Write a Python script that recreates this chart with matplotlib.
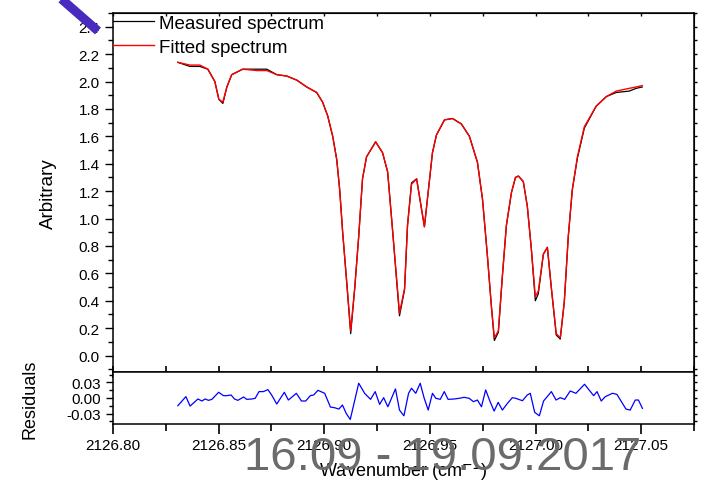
import numpy as np
import matplotlib
matplotlib.use("Agg")
import matplotlib.pyplot as plt
from matplotlib.ticker import MultipleLocator, FormatStrFormatter
from matplotlib.lines import Line2D

plt.rcParams['font.family'] = ['Liberation Sans', 'DejaVu Sans']

# spectrum (fit and measurement share one wavenumber grid)
wn = [2126.8307, 2126.8364, 2126.8411, 2126.8449, 2126.8482, 2126.8501, 2126.8520,
      2126.8539, 2126.8562, 2126.8614, 2126.8681, 2126.8728, 2126.8775, 2126.8822,
      2126.8870, 2126.8917, 2126.8964, 2126.8992, 2126.9016, 2126.9040, 2126.9059,
      2126.9073, 2126.9087, 2126.9106, 2126.9125, 2126.9144, 2126.9163, 2126.9181,
      2126.9200, 2126.9243, 2126.9276, 2126.9300, 2126.9323, 2126.9356, 2126.9380,
      2126.9394, 2126.9413, 2126.9437, 2126.9474, 2126.9512, 2126.9531, 2126.9569,
      2126.9607, 2126.9649, 2126.9687, 2126.9725, 2126.9749, 2126.9772, 2126.9791,
      2126.9805, 2126.9824, 2126.9843, 2126.9862, 2126.9886, 2126.9905, 2126.9919,
      2126.9942, 2126.9961, 2126.9980, 2126.9999, 2127.0013, 2127.0037, 2127.0056,
      2127.0075, 2127.0098, 2127.0117, 2127.0136, 2127.0155, 2127.0174, 2127.0198,
      2127.0231, 2127.0287, 2127.0335, 2127.0382, 2127.0443, 2127.0476, 2127.0505]

fitted = [2.14, 2.12, 2.12, 2.09, 2.00, 1.87, 1.85,
          1.96, 2.05, 2.09, 2.08, 2.08, 2.05, 2.04,
          2.01, 1.96, 1.92, 1.85, 1.75, 1.60, 1.43,
          1.21, 0.90, 0.54, 0.18, 0.49, 0.87, 1.29,
          1.45, 1.56, 1.48, 1.34, 0.92, 0.31, 0.49,
          0.95, 1.25, 1.29, 0.94, 1.48, 1.61, 1.72,
          1.73, 1.69, 1.60, 1.41, 1.14, 0.73, 0.36,
          0.13, 0.18, 0.58, 0.95, 1.19, 1.30, 1.31,
          1.27, 1.09, 0.78, 0.43, 0.47, 0.74, 0.79,
          0.49, 0.16, 0.13, 0.39, 0.87, 1.21, 1.45,
          1.67, 1.82, 1.89, 1.93, 1.95, 1.96, 1.97]

measured = [2.14, 2.11, 2.11, 2.09, 2.00, 1.87, 1.84,
            1.96, 2.05, 2.09, 2.09, 2.09, 2.05, 2.04,
            2.01, 1.96, 1.92, 1.85, 1.75, 1.60, 1.43,
            1.21, 0.90, 0.54, 0.16, 0.49, 0.87, 1.29,
            1.45, 1.56, 1.48, 1.34, 0.92, 0.29, 0.48,
            0.95, 1.26, 1.29, 0.94, 1.48, 1.61, 1.72,
            1.73, 1.69, 1.60, 1.41, 1.14, 0.73, 0.36,
            0.11, 0.17, 0.58, 0.95, 1.19, 1.30, 1.31,
            1.27, 1.09, 0.78, 0.40, 0.45, 0.74, 0.79,
            0.49, 0.15, 0.12, 0.39, 0.87, 1.21, 1.44,
            1.66, 1.82, 1.89, 1.92, 1.93, 1.95, 1.96]

# residuals (measured - fitted)
wn_res = [2126.8307, 2126.8345, 2126.8365, 2126.8402, 2126.8421, 2126.8436, 2126.8452,
          2126.8468, 2126.8500, 2126.8523, 2126.8539, 2126.8559, 2126.8575, 2126.8591,
          2126.8618, 2126.8633, 2126.8657, 2126.8673, 2126.8691, 2126.8712, 2126.8733,
          2126.8751, 2126.8775, 2126.8811, 2126.8830, 2126.8868, 2126.8892, 2126.8912,
          2126.8934, 2126.8950, 2126.8970, 2126.9002, 2126.9029, 2126.9049, 2126.9069,
          2126.9086, 2126.9104, 2126.9123, 2126.9163, 2126.9191, 2126.9219, 2126.9241,
          2126.9262, 2126.9281, 2126.9301, 2126.9337, 2126.9356, 2126.9377, 2126.9399,
          2126.9413, 2126.9433, 2126.9454, 2126.9473, 2126.9492, 2126.9512, 2126.9528,
          2126.9549, 2126.9568, 2126.9586, 2126.9615, 2126.9638, 2126.9662, 2126.9686,
          2126.9706, 2126.9725, 2126.9744, 2126.9764, 2126.9785, 2126.9804, 2126.9823,
          2126.9843, 2126.9867, 2126.9890, 2126.9906, 2126.9938, 2126.9961, 2126.9975,
          2126.9996, 2127.0018, 2127.0038, 2127.0075, 2127.0097, 2127.0117, 2127.0138,
          2127.0164, 2127.0191, 2127.0232, 2127.0275, 2127.0291, 2127.0311, 2127.0330,
          2127.0364, 2127.0385, 2127.0428, 2127.0448, 2127.0472, 2127.0487, 2127.0506]

residuals = [-0.0148, 0.0026, -0.0155, -0.0019, -0.0058, -0.0019, -0.0045,
             -0.0026, 0.0110, 0.0045, 0.0045, 0.0058, -0.0019, -0.0045,
             0.0019, -0.0026, -0.0019, -0.0006, 0.0123, 0.0123, 0.0161,
             0.0058, -0.0116, 0.0110, -0.0039, 0.0090, -0.0058, -0.0058,
             0.0045, 0.0058, 0.0148, 0.0090, -0.0174, -0.0187, -0.0213,
             -0.0135, -0.0297, -0.0413, 0.0284, 0.0090, -0.0026, 0.0123,
             -0.0123, 0.0006, -0.0168, 0.0174, -0.0232, -0.0342, 0.0090,
             0.0187, 0.0090, 0.0284, -0.0006, -0.0232, 0.0090, -0.0006,
             -0.0026, 0.0123, -0.0026, -0.0019, -0.0006, 0.0013, -0.0006,
             -0.0071, -0.0039, -0.0168, 0.0155, -0.0071, -0.0252, -0.0084,
             -0.0232, -0.0103, 0.0006, -0.0006, -0.0052, 0.0058, 0.0090,
             -0.0277, -0.0342, -0.0058, 0.0123, -0.0039, 0.0006, -0.0026,
             0.0135, 0.0090, 0.0264, 0.0045, 0.0123, -0.0058, 0.0026,
             0.0090, 0.0071, -0.0213, -0.0232, -0.0039, -0.0039, -0.0200]

date_text = "16.09 - 19.09.2017"

W, H = 708, 481
fig = plt.figure(figsize=(W / 100, H / 100), dpi=100)
ax = fig.add_axes([113 / W, 1 - 373 / H, 581 / W, 359 / H])
axr = fig.add_axes([113 / W, 1 - 425 / H, 581 / W, 52 / H], sharex=ax)

ax.plot(wn, measured, color='black', lw=0.9, label='Measured spectrum')
ax.plot(wn, fitted, color='red', lw=1.0, label='Fitted spectrum')
axr.plot(wn_res, residuals, color='blue', lw=0.9)

ax.set_xlim(2126.80, 2127.075)
ax.set_ylim(-0.12, 2.5)
axr.set_ylim(-0.05, 0.05)

for a in (ax, axr):
    for s in a.spines.values():
        s.set_linewidth(1.1)
    a.xaxis.set_major_locator(MultipleLocator(0.05))
    a.xaxis.set_minor_locator(MultipleLocator(0.025))
    a.tick_params(labelsize=11, colors='black')

# main panel
ax.yaxis.set_major_locator(MultipleLocator(0.2))
ax.yaxis.set_minor_locator(MultipleLocator(0.1))
ax.yaxis.set_major_formatter(FormatStrFormatter('%.1f'))
ax.tick_params(axis='y', which='major', direction='out', length=6, width=1)
ax.tick_params(axis='y', which='minor', direction='out', length=3.5, width=1)
ax.tick_params(axis='x', which='both', direction='inout', length=8, width=1.2,
               labelbottom=False)
ax.set_ylabel('Arbitrary', fontsize=13.5)
ax.yaxis.set_label_coords(-0.097, 0.5)

# small ticks on top and right of the main panel
top = ax.secondary_xaxis('top')
top.xaxis.set_major_locator(MultipleLocator(0.025))
top.tick_params(direction='in', length=2.5, width=1, labeltop=False)
right = ax.secondary_yaxis('right')
right.yaxis.set_major_locator(MultipleLocator(0.1))
right.tick_params(direction='out', length=2.5, width=1, labelright=False)

# residual panel
axr.yaxis.set_major_locator(MultipleLocator(0.03))
axr.yaxis.set_minor_locator(MultipleLocator(0.015))
axr.yaxis.set_major_formatter(FormatStrFormatter('%.2f'))
axr.tick_params(axis='y', which='major', direction='out', length=5, width=1)
axr.tick_params(axis='y', which='minor', direction='out', length=3, width=1)
axr.tick_params(axis='x', which='major', direction='out', length=7, width=1.2, pad=3)
axr.tick_params(axis='x', which='minor', direction='out', length=5, width=1.2)
axr.xaxis.set_major_formatter(FormatStrFormatter('%.2f'))
axr.set_ylabel('Residuals', fontsize=13)
axr.yaxis.set_label_coords(-0.128, 0.5)
axr.set_xlabel('Wavenumber (cm$^{-1}$)', fontsize=13, labelpad=4)
rright = axr.secondary_yaxis('right')
rright.yaxis.set_major_locator(MultipleLocator(0.015))
rright.tick_params(direction='out', length=2.5, width=1, labelright=False)

ax.legend(loc='upper left', bbox_to_anchor=(0.0, 0.995), frameon=False, fontsize=13.5,
          handlelength=2.2, handletextpad=0.25, borderaxespad=0.0, borderpad=0.0,
          labelspacing=0.35)

fig.text(443 / W, 1 - 470 / H, date_text, ha='center', va='baseline', fontsize=34,
         color='#6b6b6b')

# highlight stroke in the top-left corner
fig.add_artist(Line2D([58 / W, 98 / W], [1 + 3 / H, 1 - 32 / H], transform=fig.transFigure,
                      color='#4a2bbf', lw=6.5, solid_capstyle='butt'))

fig.savefig('out.png', dpi=100)
